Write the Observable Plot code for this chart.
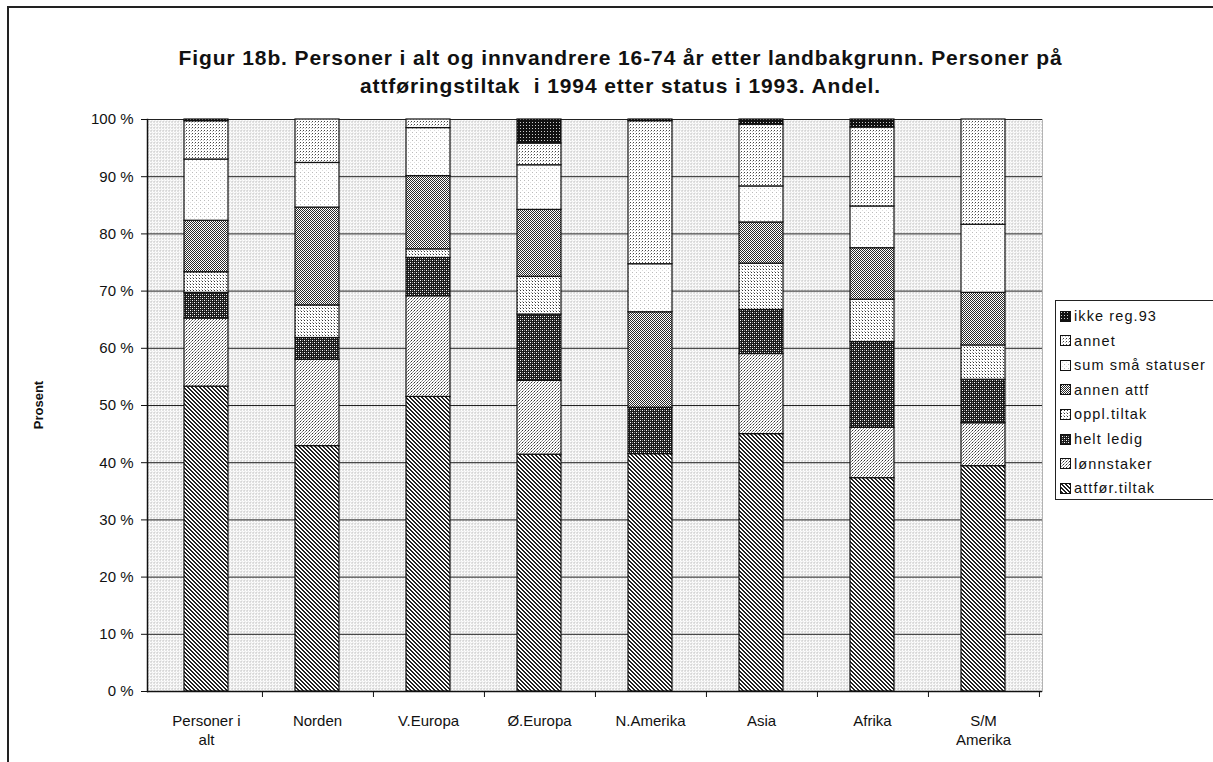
<!DOCTYPE html>
<html><head><meta charset="utf-8">
<script src="https://cdn.jsdelivr.net/npm/d3@7"></script>
<script src="https://cdn.jsdelivr.net/npm/@observablehq/plot@0.6"></script>
<style>
body{margin:0;background:#fff;font-family:"Liberation Sans",Arial,sans-serif;color:#111;}
#page{position:relative;width:1213px;height:762px;overflow:hidden;}
#frame{position:absolute;left:7px;top:6px;width:1220px;height:800px;border-top:2px solid #222;border-left:2px solid #222;}
#title{position:absolute;top:44px;left:0;width:1213px;padding-left:28px;box-sizing:border-box;text-align:center;font-weight:bold;font-size:21px;line-height:28px;letter-spacing:0.9px;}
#chart{position:absolute;left:0;top:100px;}
#ylab{position:absolute;left:38px;top:405px;transform:translate(-50%,-50%) rotate(-90deg);font-weight:bold;font-size:13px;white-space:nowrap;}
#legend{position:absolute;left:1055px;top:300px;width:160px;height:200px;border:1px solid #222;box-sizing:border-box;background:#fff;}
.item{position:absolute;left:4px;height:20px;display:flex;align-items:center;font-size:14.5px;letter-spacing:1.1px;white-space:nowrap;}
.item svg{margin-right:3px;}
</style>
</head><body>
<svg width="0" height="0" style="position:absolute">
<defs>
<pattern id="p-bg" width="3" height="3" patternUnits="userSpaceOnUse">
 <rect width="3" height="3" fill="#fff"/><rect x="0" y="0" width="1" height="1" fill="#8a8a8a"/><rect x="1" y="2" width="1" height="1" fill="#c8c8c8"/>
</pattern>
<pattern id="p-attfor" width="4" height="4" patternUnits="userSpaceOnUse">
 <rect width="4" height="4" fill="#fff"/>
 <rect x="0" y="0" width="2" height="1" fill="#222"/><rect x="1" y="1" width="2" height="1" fill="#222"/>
 <rect x="2" y="2" width="2" height="1" fill="#222"/><rect x="3" y="3" width="1" height="1" fill="#222"/><rect x="0" y="3" width="1" height="1" fill="#222"/>
</pattern>
<pattern id="p-lonn" width="3" height="3" patternUnits="userSpaceOnUse">
 <rect width="3" height="3" fill="#fff"/><rect x="0" y="0" width="1" height="1" fill="#333"/><rect x="2" y="1" width="1" height="1" fill="#888"/><rect x="1" y="2" width="1" height="1" fill="#999"/>
</pattern>
<pattern id="p-ledig" width="4" height="4" patternUnits="userSpaceOnUse">
 <rect width="4" height="4" fill="#1a1a1a"/><rect x="0" y="0" width="1" height="1" fill="#fff"/><rect x="2" y="2" width="1" height="1" fill="#fff"/><rect x="2" y="0" width="1" height="1" fill="#888"/><rect x="0" y="2" width="1" height="1" fill="#888"/>
</pattern>
<pattern id="p-oppl" width="3" height="3" patternUnits="userSpaceOnUse">
 <rect width="3" height="3" fill="#fff"/><rect x="1" y="1" width="1" height="1" fill="#333"/><rect x="0" y="0" width="1" height="1" fill="#aaa"/>
</pattern>
<pattern id="p-annen" width="2" height="2" patternUnits="userSpaceOnUse">
 <rect width="2" height="2" fill="#fff"/><rect x="0" y="0" width="1" height="1" fill="#2a2a2a"/><rect x="1" y="1" width="1" height="1" fill="#2a2a2a"/>
</pattern>
<pattern id="p-sum" width="4" height="4" patternUnits="userSpaceOnUse">
 <rect width="4" height="4" fill="#fff"/><rect x="0" y="0" width="1" height="1" fill="#bbb"/><rect x="2" y="2" width="1" height="1" fill="#ddd"/>
</pattern>
<pattern id="p-annet" width="3" height="3" patternUnits="userSpaceOnUse">
 <rect width="3" height="3" fill="#fff"/><rect x="0" y="0" width="1" height="1" fill="#444"/><rect x="2" y="1" width="1" height="1" fill="#bbb"/>
</pattern>
<pattern id="p-ikke" width="3" height="3" patternUnits="userSpaceOnUse">
 <rect width="3" height="3" fill="#111"/><rect x="1" y="1" width="1" height="1" fill="#ccc"/>
</pattern>
</defs>
</svg>
<div id="page">
 <div id="frame"></div>
 <div id="title">Figur 18b. Personer i alt og innvandrere 16-74 år etter landbakgrunn. Personer på<br>attføringstiltak&nbsp; i 1994 etter status i 1993. Andel.</div>
 <div id="chart"></div>
 <div id="ylab">Prosent</div>
 <div id="legend"></div>
</div>
<script>
const categories = ["Personer i alt","Norden","V.Europa","Ø.Europa","N.Amerika","Asia","Afrika","S/M Amerika"];
const xLabels = ["Personer i\nalt","Norden","V.Europa","Ø.Europa","N.Amerika","Asia","Afrika","S/M\nAmerika"];
const series = ["attfør.tiltak","lønnstaker","helt ledig","oppl.tiltak","annen attf","sum små statuser","annet","ikke reg.93"];
const attforTiltak   = [53.3, 42.9, 51.5, 41.4, 41.5, 45.0, 37.3, 39.4];
const lonnstaker     = [11.9, 15.1, 17.6, 12.9,  0.0, 14.0,  8.8,  7.5];
const heltLedig      = [ 4.5,  3.8,  6.7, 11.6,  8.1,  7.7, 15.0,  7.6];
const opplTiltak     = [ 3.6,  5.7,  1.5,  6.6,  0.0,  8.1,  7.4,  6.0];
const annenAttf      = [ 9.0, 17.1, 12.8, 11.7, 16.7,  7.2,  9.0,  9.2];
const sumSmaStatuser = [10.7,  7.8,  8.4,  7.8,  8.4,  6.3,  7.3, 11.9];
const annet          = [ 6.7,  7.6,  1.5,  3.8, 25.0, 10.8, 13.8, 18.4];
const ikkeReg93      = [ 0.3,  0.0,  0.0,  4.2,  0.3,  0.9,  1.4,  0.0];
const yTicks = [0,10,20,30,40,50,60,70,80,90,100];

const seriesValues = [attforTiltak, lonnstaker, heltLedig, opplTiltak, annenAttf, sumSmaStatuser, annet, ikkeReg93];
const patternFills = ["url(#p-attfor)","url(#p-lonn)","url(#p-ledig)","url(#p-oppl)","url(#p-annen)","url(#p-sum)","url(#p-annet)","url(#p-ikke)"];

const table = [];
categories.forEach((c, i) => {
  series.forEach((s, j) => {
    const v = seriesValues[j][i];
    if (v > 0) table.push({category: c, series: s, value: v});
  });
});

const W = 1213, H = 662, mL = 147, mR = 171, mT = 19, mB = 71;
const step = (W - mL - mR) / categories.length;

const chart = Plot.plot({
  width: W, height: H,
  marginLeft: mL, marginRight: mR, marginTop: mT, marginBottom: mB,
  style: {fontFamily: "'Liberation Sans', Arial, sans-serif", fontSize: "15px", color: "#111", background: "transparent"},
  x: {domain: categories, paddingInner: 0.6, paddingOuter: 0.3, align: 0.5},
  y: {domain: [0, 100]},
  color: {domain: series, range: patternFills},
  marks: [
    Plot.frame({fill: "url(#p-bg)", stroke: "#777", strokeDasharray: "1,1"}),
    Plot.gridY(yTicks, {stroke: "#222", strokeOpacity: 1, strokeWidth: 1}),
    Plot.barY(table, {x: "category", y: "value", fill: "series", order: series, stroke: "#111", strokeWidth: 1.2}),
    Plot.ruleY([0], {stroke: "#111", strokeWidth: 1.5}),
    Plot.frame({anchor: "left", stroke: "#111", strokeWidth: 1.5}),
    Plot.ruleX(categories, {x: d => d, y1: 0, y2: 0, insetBottom: -6, dx: step / 2, stroke: "#111"}),
    Plot.axisY(yTicks, {tickFormat: d => d + " %", tickSize: 6, tickPadding: 8, label: null, stroke: "#111", fontSize: 15}),
    Plot.axisX({tickSize: 0, tickPadding: 21, label: null, fontSize: 15, lineHeight: 1.25, letterSpacing: 0.5, tickFormat: d => xLabels[categories.indexOf(d)]})
  ]
});
document.getElementById("chart").appendChild(chart);

const legend = document.getElementById("legend");
const legendOrder = series.map((s, j) => j).reverse();
legendOrder.forEach((j, k) => {
  const div = document.createElement("div");
  div.className = "item";
  div.style.top = (5 + k * 24.6) + "px";
  div.innerHTML = `<svg width="11" height="11"><rect x="0.5" y="0.5" width="10" height="10" fill="${patternFills[j]}" stroke="#111"/></svg>`;
  div.appendChild(document.createTextNode(series[j]));
  legend.appendChild(div);
});
</script>
</body></html>
